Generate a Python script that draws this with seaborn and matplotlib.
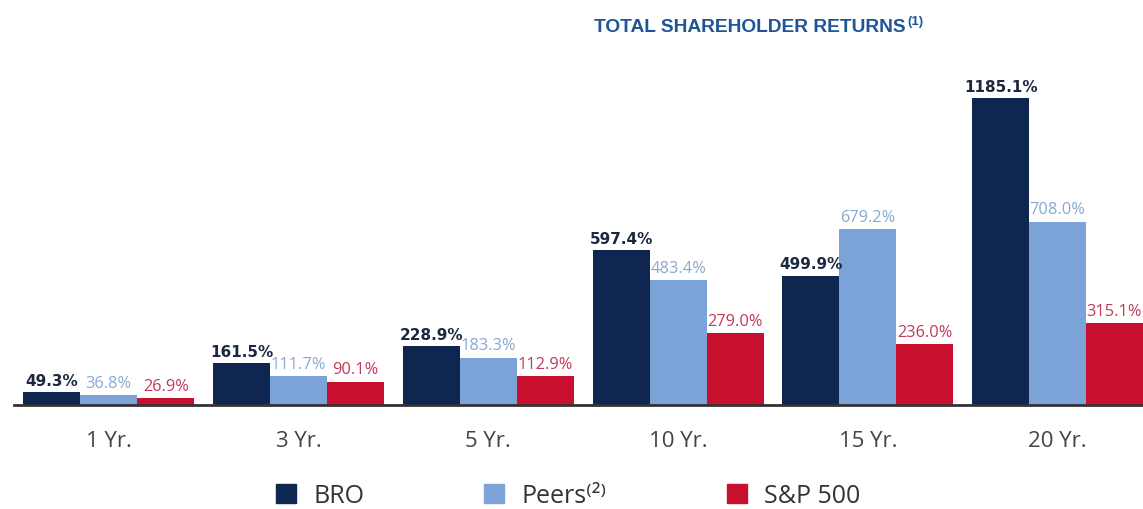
import matplotlib
matplotlib.use("Agg")
import matplotlib.pyplot as plt
import matplotlib.patches as mpatches
import numpy as np
import pandas as pd
import seaborn as sns

# data
periods = ["1 Yr.", "3 Yr.", "5 Yr.", "10 Yr.", "15 Yr.", "20 Yr."]
bro = [49.3, 161.5, 228.9, 597.4, 499.9, 1185.1]
peers = [36.8, 111.7, 183.3, 483.4, 679.2, 708.0]
sp500 = [26.9, 90.1, 112.9, 279.0, 236.0, 315.1]
series_names = ["BRO", "Peers", "S&P 500"]

colors = ["#0E2650", "#7BA3D7", "#C8102E"]
label_colors = ["#1B2840", "#8AA9D2", "#C23A55"]

df = pd.DataFrame({
    "period": periods * 3,
    "value": bro + peers + sp500,
    "series": np.repeat(series_names, len(periods)),
})

sns.set_theme(style="white")
plt.rcParams["font.family"] = ["Open Sans", "DejaVu Sans"]

fig = plt.figure(figsize=(11.43, 5.10), dpi=100)
ax = fig.add_axes([14 / 1143, 104 / 510, 1 - 14 / 1143, 346 / 510])

sns.barplot(data=df, x="period", y="value", hue="series", order=periods,
            hue_order=series_names, palette=colors, width=0.9,
            saturation=1, legend=False, linewidth=0, ax=ax)

for cont, vals, lc, i in zip(ax.containers, [bro, peers, sp500], label_colors, range(3)):
    if i == 0:
        # BRO values are bold and wide in the original
        ax.bar_label(cont, labels=[f"{v:.1f}%" for v in vals], padding=3,
                     fontsize=11, color=lc, fontweight="bold", family="DejaVu Sans")
    else:
        ax.bar_label(cont, labels=[f"{v:.1f}%" for v in vals], padding=3,
                     fontsize=11.8, color=lc)

ax.set_xlim(-0.5, 5.45)
ax.set_ylim(0, 1336)
ax.set_xlabel("")
ax.set_ylabel("")
ax.set_yticks([])
for s in ["top", "right", "left"]:
    ax.spines[s].set_visible(False)
ax.spines["bottom"].set_color("#333333")
ax.spines["bottom"].set_linewidth(2)
ax.tick_params(axis="x", length=0, pad=18, labelsize=16, labelcolor="#444444")

# title with superscript footnote marker
title_color = "#1F5597"
fig.text(906 / 1143, 1 - 28 / 510, "TOTAL SHAREHOLDER RETURNS", ha="right", va="center",
         fontsize=13.8, fontweight="bold", color=title_color, family="Liberation Sans")
fig.text(907 / 1143, 1 - 22 / 510, "(1)", ha="left", va="center",
         fontsize=9.5, fontweight="bold", color=title_color, family="Liberation Sans")

handles = [mpatches.Patch(color=c) for c in colors]
leg_labels = ["BRO", "Peers⁽²⁾", "S&P 500"]
fig.legend(handles, leg_labels, loc="center", bbox_to_anchor=(568 / 1143, 1 - 497 / 510),
           ncol=3, frameon=False, fontsize=18, handlelength=0.8, handleheight=0.8,
           columnspacing=4.8, handletextpad=0.7, labelcolor="#333333")

fig.savefig("out.png", dpi=100)
